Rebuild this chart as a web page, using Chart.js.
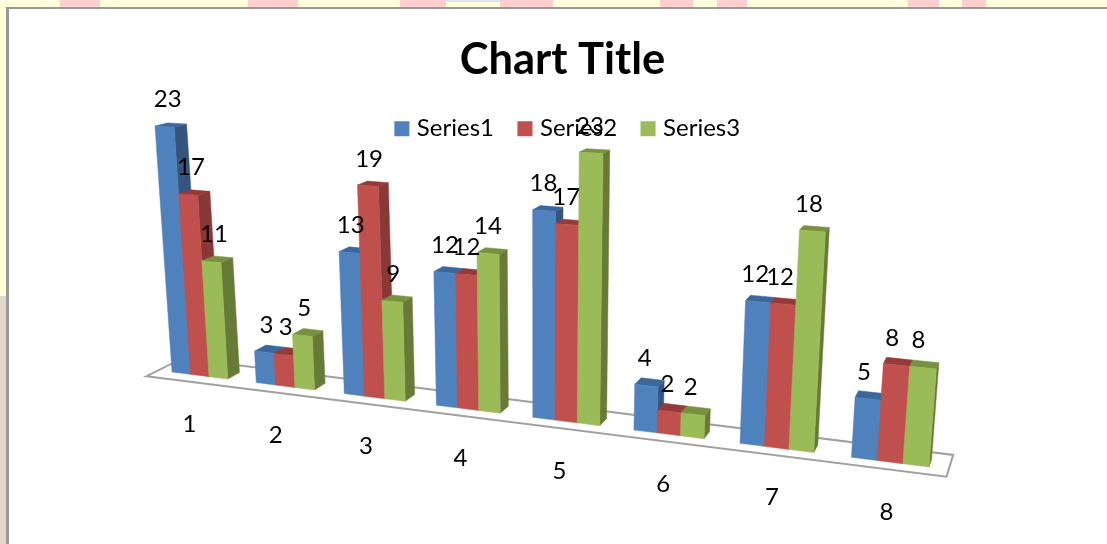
<!DOCTYPE html>
<html><head><meta charset="utf-8">
<style>
html,body{margin:0;padding:0;width:1107px;height:544px;overflow:hidden;background:#FFFFDC}
.p{position:absolute;top:0;height:7px;background:#FFCFCF}
#tan{position:absolute;left:0;top:296px;width:6px;height:248px;background:#E0D9CB}
#sheet{position:absolute;left:6px;top:7px;width:1101px;height:537px;background:#fff;border-left:3px solid #989898;border-top:2px solid #989898;box-sizing:border-box}
#wrap{position:absolute;left:0;top:0;width:1107px;height:544px}
</style>
<script src="https://cdn.jsdelivr.net/npm/chart.js@4/dist/chart.umd.min.js"></script>
</head><body>
<div class="p" style="left:60px;width:40px"></div>
<div class="p" style="left:248px;width:50px"></div>
<div class="p" style="left:400px;width:46px"></div>
<div class="p" style="left:446px;width:54px;height:2px;background:#DDE3F5"></div>
<div class="p" style="left:500px;width:53px"></div>
<div class="p" style="left:660px;width:33px"></div>
<div class="p" style="left:717px;width:30px"></div>
<div class="p" style="left:908px;width:31px"></div>
<div class="p" style="left:962px;width:24px"></div>
<div id="tan"></div><div id="sheet"></div>
<div id="wrap"><canvas id="c" width="1107" height="544"></canvas></div>
<script>
const categories = ['1','2','3','4','5','6','7','8'];
const series1 = [23,3,13,12,18,4,12,5];
const series2 = [17,3,19,12,17,2,12,8];
const series3 = [11,5,9,14,23,2,18,8];
const seriesNames = ['Series1','Series2','Series3'];
const frontColors = ['#4F81BD','#C0504D','#9BBB59'];
const sideColors = ['#35557F','#8A3836','#677A37'];
const topColors = ['#3A689C','#933B39','#77913F'];

const FONT = 'Lato';
const groupShare = 0.667;
// projection of the front plane of the bars, and the vanishing point of depth
const quad = [[172,372],[929,467],[951,175],[155,126]];
const VP = [1126,-114];
const DEPTH = 0.013, FLOOR_FRONT = -0.0125, FLOOR_BACK = 0.025;

function squareToQuad(q){
  const [[x0,y0],[x1,y1],[x2,y2],[x3,y3]] = q;
  const dx1=x1-x2,dx2=x3-x2,sx=x0-x1+x2-x3,dy1=y1-y2,dy2=y3-y2,sy=y0-y1+y2-y3;
  const det=dx1*dy2-dx2*dy1;
  const g=(sx*dy2-dx2*sy)/det,h=(dx1*sy-sx*dy1)/det;
  return {a:x1-x0+g*x1,b:x3-x0+h*x3,c:x0,d:y1-y0+g*y1,e:y3-y0+h*y3,f:y0,g,h};
}
const H = squareToQuad(quad);
function proj(u,v){
  const w=H.g*u+H.h*v+1;
  return [(H.a*u+H.b*v+H.c)/w,(H.d*u+H.e*v+H.f)/w];
}
function deep(p,d){return [p[0]+d*(VP[0]-p[0]),p[1]+d*(VP[1]-p[1])];}
function poly(ctx,pts,fill){
  ctx.beginPath();
  pts.forEach((p,i)=>i?ctx.lineTo(p[0],p[1]):ctx.moveTo(p[0],p[1]));
  ctx.closePath();ctx.fillStyle=fill;ctx.fill();
  ctx.strokeStyle=fill;ctx.lineWidth=0.5;ctx.stroke();
}

const bars3d = {
  id:'bars3d',
  afterLayout(chart){ chart.legend.left += 14; },
  beforeDatasetsDraw(chart){
    const ctx=chart.ctx, xs=chart.scales.x, ys=chart.scales.y;
    const cat=(xs.getPixelForValue(1)-xs.getPixelForValue(0));
    const gl=xs.getPixelForValue(0)-cat*groupShare/2;
    const gr=xs.getPixelForValue(categories.length-1)+cat*groupShare/2;
    const tOf=px=>(px-gl)/(gr-gl);
    const base=ys.getPixelForValue(0);
    const maxV=Math.max(...series1,...series2,...series3);
    const vOf=py=>(base-py)/(base-ys.getPixelForValue(maxV));
    ctx.save();
    // floor
    const t0=tOf(xs.left), t1=tOf(xs.right);
    const fl=[deep(proj(t0,0),FLOOR_FRONT),deep(proj(t1,0),FLOOR_FRONT),deep(proj(t1,0),FLOOR_BACK),deep(proj(t0,0),FLOOR_BACK)];
    ctx.beginPath();fl.forEach((p,i)=>i?ctx.lineTo(p[0],p[1]):ctx.moveTo(p[0],p[1]));ctx.closePath();
    ctx.fillStyle='#fff';ctx.fill();ctx.strokeStyle='#A0A0A0';ctx.lineWidth=2;ctx.lineJoin='miter';ctx.stroke();
    // bars
    const labels=[];
    categories.forEach((c,ci)=>{
      chart.data.datasets.forEach((ds,si)=>{
        const el=chart.getDatasetMeta(si).data[ci];
        const a=tOf(el.x-el.width/2),b=tOf(el.x+el.width/2),v=vOf(el.y);
        const bl=proj(a,0),br=proj(b,0),tr=proj(b,v),tl=proj(a,v);
        poly(ctx,[br,tr,deep(tr,DEPTH),deep(br,DEPTH)],sideColors[si]);
        poly(ctx,[tl,tr,deep(tr,DEPTH),deep(tl,DEPTH)],topColors[si]);
        poly(ctx,[bl,br,tr,tl],frontColors[si]);
        const mid=proj((a+b)/2,v), off=deep(mid,0.01);
        labels.push([String(ds.data[ci]),off[0]-6.5,mid[1]-27]);
      });
    });
    // value labels
    ctx.fillStyle='#000';ctx.font='24px '+FONT;ctx.textAlign='center';ctx.textBaseline='middle';
    labels.forEach(l=>ctx.fillText(l[0],l[1],l[2]));
    // category labels
    categories.forEach((c,ci)=>{
      const p=deep(proj(tOf(xs.getPixelForValue(ci)),0),-0.01);
      ctx.fillText(xs.getLabelForValue(ci),p[0]-1,p[1]+44);
    });
    ctx.restore();
    return false;
  }
};

new Chart(document.getElementById('c'),{
  type:'bar',
  data:{labels:categories,datasets:[
    {label:seriesNames[0],data:series1,backgroundColor:frontColors[0]},
    {label:seriesNames[1],data:series2,backgroundColor:frontColors[1]},
    {label:seriesNames[2],data:series3,backgroundColor:frontColors[2]}
  ]},
  plugins:[bars3d],
  options:{
    responsive:false,animation:false,
    layout:{padding:{left:18}},
    datasets:{bar:{categoryPercentage:groupShare,barPercentage:1}},
    scales:{x:{display:false},y:{display:false,min:0,max:25}},
    plugins:{
      tooltip:{enabled:false},
      title:{display:true,text:'Chart Title',color:'#000',font:{family:FONT,size:43.5,weight:'bold'},padding:{top:34,bottom:2.5}},
      legend:{display:true,position:'top',onClick:null,
        labels:{color:'#000',font:{family:FONT,size:24},boxWidth:6,boxHeight:6,padding:28,
          generateLabels:(ch)=>ch.data.datasets.map((d,i)=>({text:d.label,fillStyle:frontColors[i],strokeStyle:frontColors[i],lineWidth:9,lineJoin:'miter',datasetIndex:i,hidden:false,fontColor:'#000'}))
        }}
    }
  }
});
</script>
</body></html>
